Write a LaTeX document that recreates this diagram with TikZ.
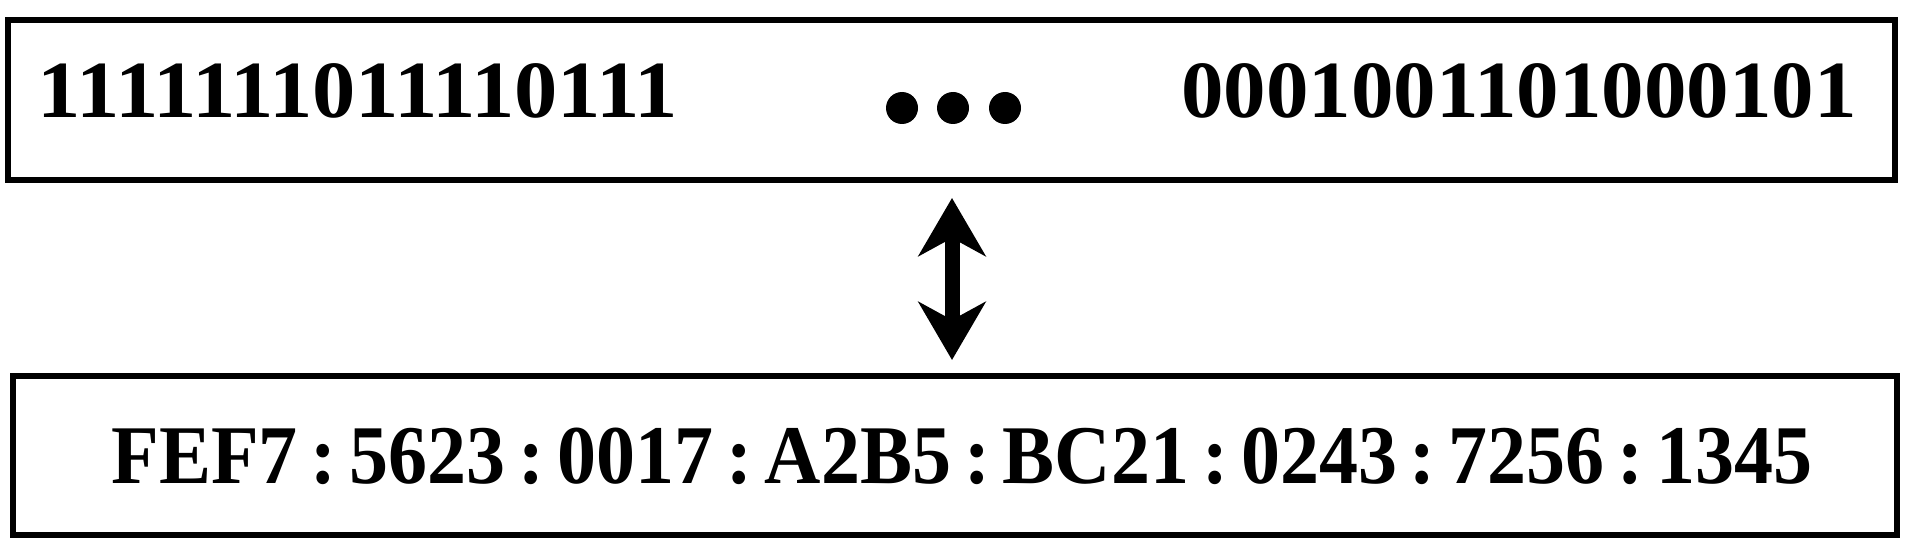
\documentclass[tikz,border=0pt]{standalone}
\usepackage{fontspec}
\setmainfont{Liberation Serif}
\usetikzlibrary{arrows.meta}
\begin{document}
\begin{tikzpicture}[x=0.5pt,y=-0.5pt,
  box/.style={draw,line width=3pt,minimum width=#1,inner sep=0pt},
  txt/.style={anchor=base,inner sep=0pt,font=\fontsize{39pt}{39pt}\selectfont\bfseries},
  dot/.style={circle,fill,inner sep=0pt,minimum size=16pt},
  dbl/.style={{Stealth[length=29pt,width=33.5pt,inset=9pt]}-{Stealth[length=29pt,width=33.5pt,inset=9pt]},line width=7.5pt}]
\useasboundingbox (0,0) rectangle (1905,540);
\node[box=943.75pt,minimum height=80pt] (top) at (951.25,100) {};
\node[box=942pt,minimum height=79.5pt] (bottom) at (955,455.5) {};
\node[txt] (left) at (358,118) {\scalebox{1.11}[1.04]{1111111011110111}};
\node[txt] (right) at (1519,118) {\scalebox{1.09}[1.04]{0001001101000101}};
\node[dot] (d1) at (902,108) {};
\node[dot] (d2) at (953,108) {};
\node[dot] (d3) at (1005,108) {};
\newcommand{\cl}{\kern0.165em:\kern0.165em}
\node[txt] (addr) at (962,483) {\scalebox{1}[1.07]{FEF7\cl 5623\cl 0017\cl A2B5\cl BC21\cl 0243\cl 7256\cl 1345}};
\coordinate (ax) at (952,0);
\draw[dbl,shorten <=7.5pt,shorten >=6.5pt] (top.south -| ax) -- (bottom.north -| ax);
\end{tikzpicture}
\end{document}
